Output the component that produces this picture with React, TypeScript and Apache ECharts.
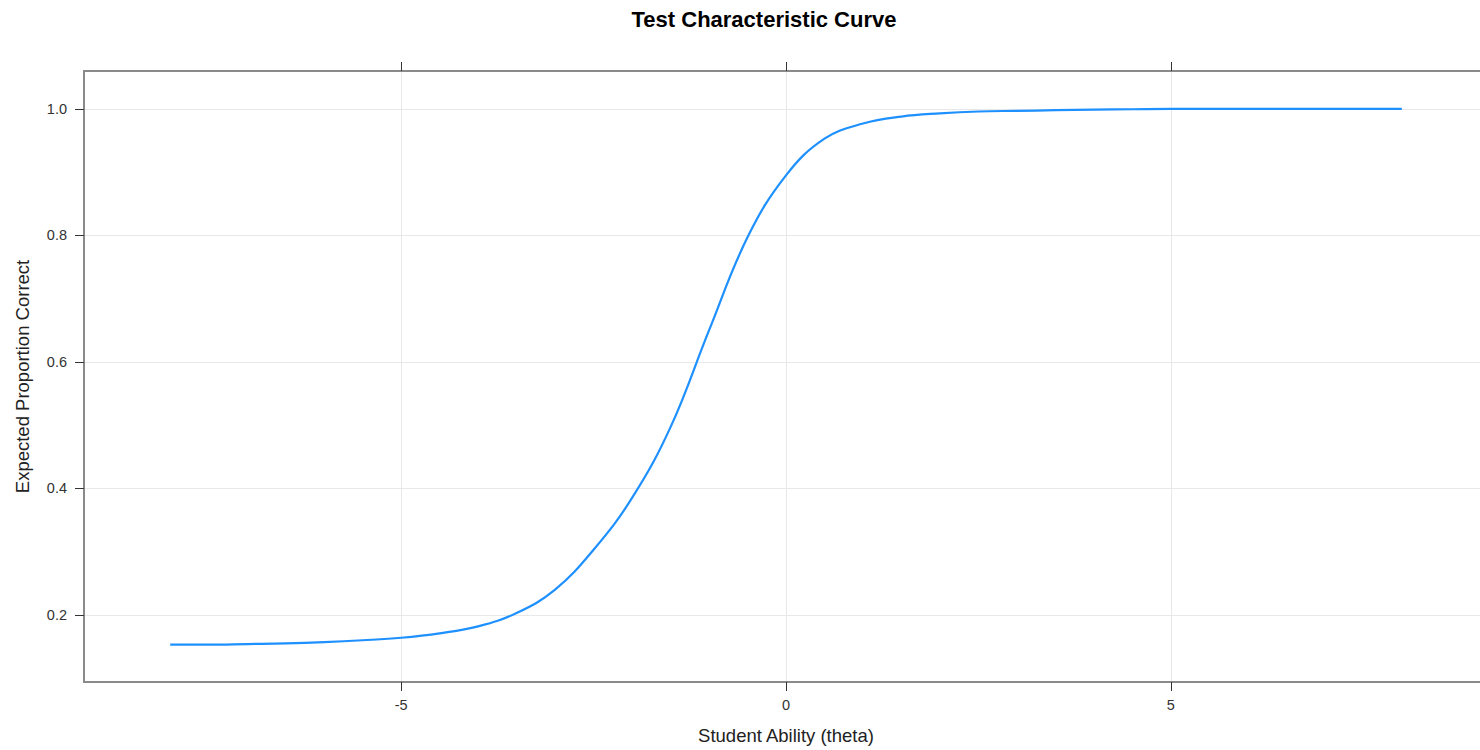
import React, { useEffect, useRef } from "react";
import * as echarts from "echarts";

const thetaValues = [
  -8, -7.5, -7, -6.5, -6, -5.5, -5, -4.5, -4, -3.5, -3, -2.5, -2, -1.5, -1,
  -0.5, 0, 0.5, 1, 1.5, 2, 2.5, 3, 3.5, 4, 4.5, 5, 5.5, 6, 6.5, 7, 7.5, 8,
];
const expectedValues = [
  0.153, 0.153, 0.154, 0.155, 0.157, 0.16, 0.164, 0.171, 0.182, 0.203, 0.24,
  0.303, 0.385, 0.497, 0.65, 0.797, 0.895, 0.953, 0.977, 0.988, 0.993, 0.996,
  0.997, 0.998, 0.999, 0.9995, 1.0, 1.0, 1.0, 1.0, 1.0, 1.0, 1.0,
];
const xTicks = [-5, 0, 5];
const yTicks = [0.2, 0.4, 0.6, 0.8, 1.0];

const titleText = "Test Characteristic Curve";
const xName = "Student Ability (theta)";
const yName = "Expected Proportion Correct";

const FONT = "'Liberation Sans', Arial, Helvetica, sans-serif";
const FRAME = "#8a8a8a";
const TICK = "#333333";

export default function App() {
  const ref = useRef<HTMLDivElement>(null);

  useEffect(() => {
    document.body.style.overflow = "hidden";
    if (!ref.current) return;
    const chart = echarts.init(ref.current, null, { renderer: "svg" });
    const data = thetaValues.map((t, i) => [t, expectedValues[i]]);
    chart.setOption({
      animation: false,
      backgroundColor: "#ffffff",
      textStyle: { fontFamily: FONT },
      title: {
        text: titleText,
        left: 759,
        textAlign: "center",
        top: 3,
        textStyle: {
          fontFamily: FONT,
          fontSize: 22,
          fontWeight: "bold",
          color: "#000000",
        },
      },
      grid: {
        left: 84,
        right: 8,
        top: 71,
        bottom: 68,
        containLabel: false,
        outerBoundsMode: "none",
      },
      xAxis: [
        {
          type: "value",
          position: "bottom",
          min: -9.12,
          max: 9.12,
          name: xName,
          nameLocation: "middle",
          nameGap: 44,
          nameTextStyle: { fontFamily: FONT, fontSize: 18.5, color: "#222" },
          axisLine: { show: true, onZero: false, lineStyle: { color: FRAME, width: 2 } },
          axisTick: {
            show: true,
            length: 9,
            customValues: xTicks,
            lineStyle: { color: TICK, width: 1 },
          },
          axisLabel: {
            show: true,
            customValues: xTicks,
            margin: 15,
            fontFamily: FONT,
            fontSize: 14.5,
            color: "#333",
          },
          splitLine: { show: true, lineStyle: { color: "#e8e8e8", width: 1 } },
        },
        {
          type: "value",
          position: "top",
          min: -9.12,
          max: 9.12,
          axisLine: { show: true, onZero: false, lineStyle: { color: FRAME, width: 2 } },
          axisTick: {
            show: true,
            length: 9,
            customValues: xTicks,
            lineStyle: { color: TICK, width: 1 },
          },
          axisLabel: { show: false },
          splitLine: { show: false },
        },
      ],
      yAxis: [
        {
          type: "value",
          position: "left",
          min: 0.094,
          max: 1.06,
          name: yName,
          nameLocation: "middle",
          nameGap: 52,
          nameTextStyle: { fontFamily: FONT, fontSize: 18.5, color: "#222" },
          axisLine: { show: true, onZero: false, lineStyle: { color: FRAME, width: 2 } },
          axisTick: {
            show: true,
            length: 9,
            customValues: yTicks,
            lineStyle: { color: TICK, width: 1 },
          },
          axisLabel: {
            show: true,
            customValues: yTicks,
            margin: 17,
            fontFamily: FONT,
            fontSize: 14.5,
            color: "#333",
            formatter: (v: number) => v.toFixed(1),
          },
          splitLine: { show: true, lineStyle: { color: "#e8e8e8", width: 1 } },
        },
      ],
      series: [
        {
          type: "line",
          data,
          smooth: 0.4,
          showSymbol: false,
          symbol: "none",
          xAxisIndex: 0,
          yAxisIndex: 0,
          lineStyle: { color: "#1E90FF", width: 2.2 },
        },
      ],
    });
    return () => chart.dispose();
  }, []);

  return (
    <div
      style={{
        position: "absolute",
        left: 0,
        top: 0,
        width: 1480,
        height: 750,
        overflow: "hidden",
      }}
    >
      <div ref={ref} style={{ width: 1496, height: 750 }} />
    </div>
  );
}
